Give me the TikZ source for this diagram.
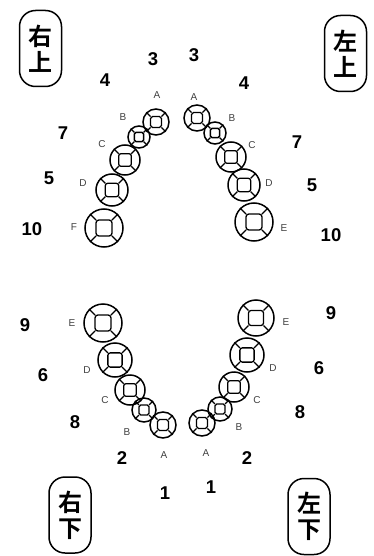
\documentclass[tikz,border=0pt]{standalone}
\usepackage{fontspec}
\setmainfont{Liberation Sans}
\newfontfamily\jpfont{Noto Sans CJK JP}[BoldFont={* Bold}]
\begin{document}
\begin{tikzpicture}[x=1pt,y=-1pt,
  tooth/.style={circle,draw,line width=1.5pt,inner sep=0pt},
  toothin/.style={line width=1.3pt},
  num/.style={font=\fontsize{18.5}{18}\selectfont\bfseries,inner sep=0pt},
  let/.style={font=\fontsize{10}{10}\selectfont,text=black!75,inner sep=0pt},
  quad/.style={draw,line width=1.5pt,rounded corners=16pt,minimum width=42pt,minimum height=76pt,inner sep=0pt,
    font=\jpfont\bfseries\fontsize{24}{26}\selectfont,align=center}]
\useasboundingbox (0,0) rectangle (374,556);
\fill[white] (0,0) rectangle (374,556);
\newcommand\tooth[4]{%
  \node[tooth,minimum size=#4*2pt] (#1) at (#2,#3) {};
  \draw[toothin,rounded corners=#4*0.15pt] ([shift={(-#4*0.42pt,-#4*0.42pt)}]#1.center) rectangle ([shift={(#4*0.42pt,#4*0.42pt)}]#1.center);
  \foreach \a in {45,135,225,315}{\draw[toothin] ([shift={(\a:#4*0.59pt)}]#1.center) -- (#1.\a);}
}
% quadrant labels
\node[quad] (qUL) at (40.5,48.5) {右\\上};
\node[quad] (qUR) at (345.5,53.5) {左\\上};
\node[quad] (qLL) at (70,515) {右\\下};
\node[quad] (qLR) at (309,516.5) {左\\下};
% upper left teeth
\tooth{ulE}{104}{228}{19}
\tooth{ulD}{112}{190}{16}
\tooth{ulC}{125}{160}{15}
\tooth{ulB}{139}{137}{11}
\tooth{ulA}{156}{122}{13}
% upper right teeth
\tooth{urE}{254}{222}{19}
\tooth{urD}{244}{185}{16}
\tooth{urC}{231}{157}{15}
\tooth{urB}{215}{133}{11}
\tooth{urA}{197}{118}{13}
% lower left teeth
\tooth{llE}{103}{323}{19}
\tooth{llD}{115}{360}{17}
\tooth{llC}{130}{390}{15}
\tooth{llB}{144}{410}{12}
\tooth{llA}{163}{425}{13}
% lower right teeth
\tooth{lrE}{256}{318}{18}
\tooth{lrD}{247}{355}{17}
\tooth{lrC}{234}{387}{15}
\tooth{lrB}{220}{409}{12}
\tooth{lrA}{202}{423}{13}
% letters
\node[let] (tulA) at (157,95) {A};
\node[let] (tulB) at (123,117) {B};
\node[let] (tulC) at (102,144) {C};
\node[let] (tulD) at (83,183) {D};
\node[let] (tulF) at (74,227) {F};
\node[let] (turA) at (194,97) {A};
\node[let] (turB) at (232,118) {B};
\node[let] (turC) at (252,145) {C};
\node[let] (turD) at (269,183) {D};
\node[let] (turE) at (284,228) {E};
\node[let] (tllE) at (72,323) {E};
\node[let] (tllD) at (87,370) {D};
\node[let] (tllC) at (105,400) {C};
\node[let] (tllB) at (127,432) {B};
\node[let] (tllA) at (164,455) {A};
\node[let] (tlrE) at (286,322) {E};
\node[let] (tlrD) at (273,368) {D};
\node[let] (tlrC) at (257,400) {C};
\node[let] (tlrB) at (239,427) {B};
\node[let] (tlrA) at (206,453) {A};
% numbers
\node[num] (nul3) at (153,59) {3};
\node[num] (nul4) at (105,80) {4};
\node[num] (nul7) at (63,133) {7};
\node[num] (nul5) at (49,178) {5};
\node[num] (nul10) at (32,229) {10};
\node[num] (nur3) at (194,55) {3};
\node[num] (nur4) at (244,83) {4};
\node[num] (nur7) at (297,142) {7};
\node[num] (nur5) at (312,185) {5};
\node[num] (nur10) at (331,235) {10};
\node[num] (nll9) at (25,325) {9};
\node[num] (nll6) at (43,375) {6};
\node[num] (nll8) at (75,422) {8};
\node[num] (nll2) at (122,458) {2};
\node[num] (nll1) at (165,493) {1};
\node[num] (nlr9) at (331,313) {9};
\node[num] (nlr6) at (319,368) {6};
\node[num] (nlr8) at (300,412) {8};
\node[num] (nlr2) at (247,458) {2};
\node[num] (nlr1) at (211,487) {1};
\end{tikzpicture}
\end{document}
